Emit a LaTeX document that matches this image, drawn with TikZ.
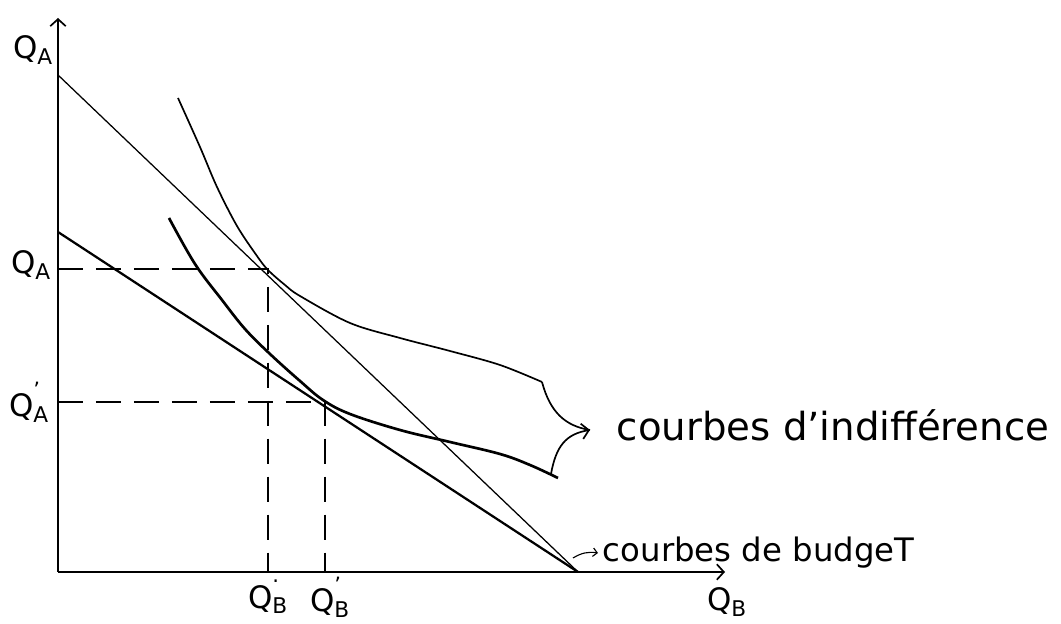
\documentclass[tikz,border=0pt]{standalone}
\usepackage{fontspec}
\setsansfont{DejaVu Sans}
\usetikzlibrary{arrows.meta}
\newcommand\qmark[2]{Q\rlap{\raisebox{0.62em}{\fontsize{15}{15}\selectfont#2}}\textsubscript{#1}}
\begin{document}
\begin{tikzpicture}[x=0.025cm, y=0.025cm, font=\sffamily,
    >={Straight Barb[length=5pt, width=11pt, line width=1.2pt]}]
  \tikzset{
    axis/.style={line width=1.3pt, ->},
    budget/.style={line width=0.9pt},
    budgetb/.style={line width=1.6pt},
    indiff/.style={line width=1.2pt},
    indiffb/.style={line width=1.9pt},
    guide/.style={line width=0.8pt, dash pattern=on 18pt off 9pt},
    qlab/.style={font=\sffamily\fontsize{22}{24}\selectfont, inner sep=1pt},
    note/.style={anchor=west, font=\sffamily\fontsize{27.5}{30}\selectfont},
    notes/.style={anchor=west, font=\sffamily\fontsize{23}{26}\selectfont},
  }
  \useasboundingbox (0,0) rectangle (1061,624);

  % axes
  \coordinate (O) at (58,52);
  \coordinate (ytop) at (58,606);
  \coordinate (xend) at (725,52);
  \draw[axis] (O) -- (ytop);
  \draw[axis] (O) -- (xend);

  % budget lines
  \coordinate (a1) at (58,549);
  \coordinate (a2) at (58,392);
  \coordinate (b) at (578,52);
  \draw[budget] (a1) -- (b);
  \draw[budgetb] (a2) -- (b);

  % indifference curves
  \draw[indiff] plot[smooth, tension=0.55] coordinates {
    (178,526) (200,477) (217,437) (237,398) (257,368) (268,354) (285,339)
    (300,328) (350,301) (400,286) (450,273) (500,259) (542,242)};
  \draw[indiffb] plot[smooth, tension=0.6] coordinates {
    (169,406) (195,360) (222,324) (245,295) (270,270) (300,243)
    (323,224) (350,210) (400,194) (450,182) (500,170) (530,159) (558,146)};

  % optimum points
  \coordinate (P1) at (268,355);
  \coordinate (P2) at (325,222);
  \draw[guide] (P1 -| O) -- (P1) -- (P1 |- O);
  \draw[guide] (P2 -| O) -- (P2) -- (P2 |- O);

  % brace to the label
  \coordinate (bt) at (542,242);
  \coordinate (bb) at (551,150);
  \coordinate (tip) at (590,194);
  \draw[indiff] (bt) .. controls (550,212) and (565,198) .. (tip);
  \draw[indiff, ->] (bb) .. controls (556,178) and (566,190) .. (tip);

  \node[qlab] (qatop) at (33,574) {\qmark{A}{}};
  \node[qlab] (qa) at (31,359) {\qmark{A}{}};
  \node[qlab] (qa2) at (29,222) {\qmark{A}{'}};
  \node[qlab] (qb) at (268,27) {\qmark{B}{·}};
  \node[qlab] (qb2) at (330,27) {\qmark{B}{'}};
  \node[qlab] (qbaxis) at (727,22) {\qmark{B}{}};

  \node[note] (indifftxt) at (612,199) {courbes d'indifférence};
  \node[notes] (budgettxt) at (598,71) {courbes de budgeT};
  \coordinate (bs) at (573,66);
  \draw[line width=0.8pt, -{Straight Barb[length=3pt, width=6pt]}]
    (bs) to[bend left=20] (budgettxt.west);
\end{tikzpicture}
\end{document}
